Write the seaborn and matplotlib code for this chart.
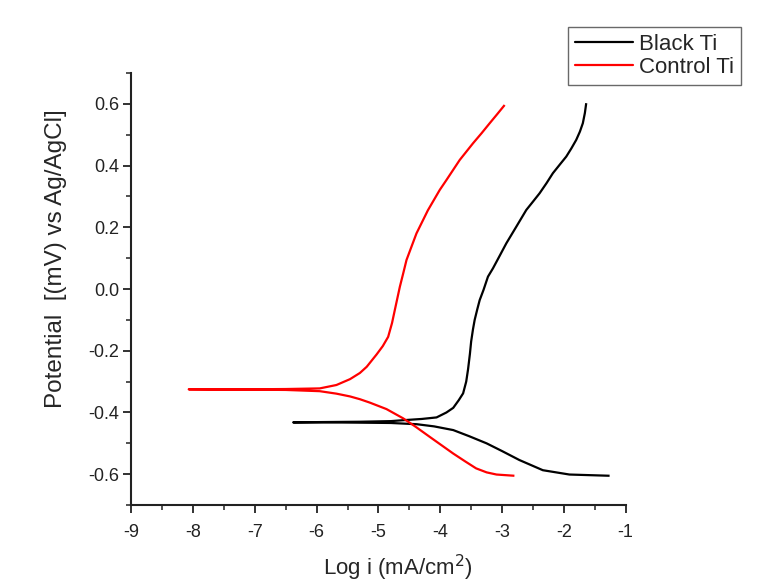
import numpy as np
import pandas as pd
import matplotlib
matplotlib.use("Agg")
import matplotlib.pyplot as plt
from matplotlib.ticker import MultipleLocator, FuncFormatter
from matplotlib.lines import Line2D
import seaborn as sns

# Black Ti: cathodic branch (from its end back to Ecorr) then anodic branch
black_x = [-1.26, -1.91, -2.34, -2.72, -3.00, -3.25, -3.53, -3.79, -4.10, -4.38, -4.80, -5.30, -5.90, -6.38,
           -5.90, -5.30, -4.80, -4.60, -4.30, -4.06, -3.90, -3.79, -3.70, -3.63, -3.58, -3.55, -3.52, -3.50,
           -3.47, -3.443, -3.40, -3.362, -3.30, -3.228, -3.147, -3.04, -2.931, -2.85, -2.769, -2.608, -2.50,
           -2.393, -2.28, -2.178, -2.07, -1.961, -1.88, -1.80, -1.74, -1.693, -1.66, -1.638]
black_y = [-0.605, -0.601, -0.587, -0.554, -0.525, -0.500, -0.477, -0.457, -0.445, -0.438, -0.434, -0.433, -0.432, -0.432,
           -0.431, -0.430, -0.428, -0.425, -0.421, -0.416, -0.400, -0.385, -0.360, -0.338, -0.300, -0.260, -0.210, -0.170,
           -0.130, -0.100, -0.065, -0.036, -0.003, 0.040, 0.067, 0.107, 0.148, 0.175, 0.202, 0.256, 0.283,
           0.310, 0.343, 0.375, 0.402, 0.429, 0.455, 0.483, 0.510, 0.537, 0.570, 0.602]

# Control Ti
red_x = [-2.80, -3.09, -3.25, -3.42, -3.60, -3.79, -3.98, -4.17, -4.40, -4.60, -4.87, -5.14, -5.30, -5.46, -5.68, -5.95, -6.50, -7.20, -8.07,
         -7.20, -6.50, -5.95, -5.68, -5.46, -5.30, -5.19, -5.03, -4.93, -4.843, -4.78, -4.735, -4.654, -4.60, -4.546,
         -4.46, -4.385, -4.20, -4.008, -3.90, -3.685, -3.47, -3.33, -3.20, -3.08, -2.958]
red_y = [-0.605, -0.601, -0.594, -0.581, -0.558, -0.533, -0.506, -0.479, -0.446, -0.419, -0.389, -0.368, -0.357, -0.348, -0.339, -0.331, -0.327, -0.326, -0.325,
         -0.325, -0.324, -0.322, -0.311, -0.292, -0.272, -0.252, -0.212, -0.185, -0.155, -0.110, -0.068, 0.007, 0.050, 0.094,
         0.140, 0.180, 0.255, 0.321, 0.353, 0.418, 0.472, 0.505, 0.537, 0.566, 0.596]

labels = ["Black Ti", "Control Ti"]
colors = {"Black Ti": "#000000", "Control Ti": "#ff0000"}

df = pd.concat([
    pd.DataFrame({"x": black_x, "y": black_y, "s": labels[0]}),
    pd.DataFrame({"x": red_x, "y": red_y, "s": labels[1]}),
])

sns.set_theme(style="ticks")
plt.rcParams["font.family"] = ["Liberation Sans", "DejaVu Sans"]

fig = plt.figure(figsize=(7.63, 5.88), dpi=100)
ax = fig.add_axes([0.172, 0.141, 0.648, 0.735])

sns.lineplot(data=df, x="x", y="y", hue="s", palette=colors, sort=False,
             estimator=None, units="s", ax=ax, linewidth=1.6, legend=False)
for ln in ax.lines:
    ln.set_solid_joinstyle("round")
    ln.set_solid_capstyle("butt")

ax.set_xlim(-9, -1)
ax.set_ylim(-0.7, 0.7)
ax.xaxis.set_major_locator(MultipleLocator(1))
ax.xaxis.set_minor_locator(MultipleLocator(0.5))
ax.yaxis.set_major_locator(MultipleLocator(0.2))
ax.yaxis.set_minor_locator(MultipleLocator(0.1))
ax.xaxis.set_major_formatter(FuncFormatter(lambda v, p: f"{v:.0f}"))
ax.yaxis.set_major_formatter(FuncFormatter(lambda v, p: "0.0" if abs(v) < 1e-9 else f"{v:.1f}"))

for s in ["top", "right"]:
    ax.spines[s].set_visible(False)
for s in ["left", "bottom"]:
    ax.spines[s].set_linewidth(1.5)
    ax.spines[s].set_color("#222222")

ax.tick_params(axis="both", which="major", direction="out", length=5.5, width=1.3,
               labelsize=13, colors="#222222")
ax.tick_params(axis="x", which="major", pad=8)
ax.tick_params(axis="y", which="major", pad=3)
ax.tick_params(axis="both", which="minor", direction="out", length=3.5, width=1.1, colors="#222222")

ax.set_xlabel("Log i (mA/cm$^2$)", fontsize=16)
ax.set_ylabel("Potential  [(mV) vs Ag/AgCl]", fontsize=17.5)
ax.xaxis.set_label_coords(0.539, -0.11)
ax.yaxis.set_label_coords(-0.13, 0.57)

handles = [Line2D([0], [0], color=colors[l], lw=1.6) for l in labels]
leg = fig.legend(handles, labels, loc="upper right", bbox_to_anchor=(0.971, 0.954),
                 fontsize=16, frameon=True, fancybox=False, handlelength=2.6,
                 handletextpad=0.3, borderpad=0.3, labelspacing=0.1, borderaxespad=0)
leg.get_frame().set_edgecolor("#444444")
leg.get_frame().set_linewidth(1.0)

fig.savefig("out.png", dpi=100)
